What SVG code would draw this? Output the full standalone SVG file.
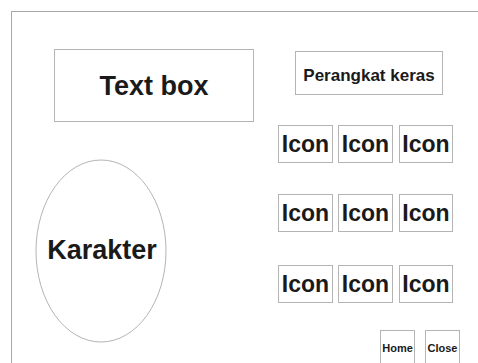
<svg xmlns="http://www.w3.org/2000/svg" width="478" height="363" viewBox="0 0 478 363">
  <style>
    .box { fill: #ffffff; stroke: #b4b4b4; stroke-width: 1; }
    .frame { fill: none; stroke: #a8a8a8; stroke-width: 1; }
    .lbl { font-family: "Liberation Sans", Arial, sans-serif; font-weight: bold; fill: #1a1a1a; text-anchor: middle; }
  </style>
  <rect width="478" height="363" fill="#ffffff"/>
  <rect class="frame" x="11.5" y="11.5" width="480" height="370"/>

  <g id="textbox">
    <rect class="box" x="54.5" y="49.5" width="199" height="72"/>
    <text class="lbl" x="154" y="95" font-size="27">Text box</text>
  </g>

  <g id="perangkat-keras">
    <rect class="box" x="295.5" y="51.5" width="147" height="43"/>
    <text class="lbl" x="369" y="81" font-size="17">Perangkat keras</text>
  </g>

  <g id="icon-1-1"><rect class="box" x="278.5" y="125.5" width="54" height="37"/><text class="lbl" x="305.5" y="152" font-size="23">Icon</text></g>
  <g id="icon-1-2"><rect class="box" x="338.5" y="125.5" width="54" height="37"/><text class="lbl" x="365.5" y="152" font-size="23">Icon</text></g>
  <g id="icon-1-3"><rect class="box" x="399.5" y="125.5" width="53" height="37"/><text class="lbl" x="426" y="152" font-size="23">Icon</text></g>

  <g id="icon-2-1"><rect class="box" x="278.5" y="194.5" width="54" height="37"/><text class="lbl" x="305.5" y="221" font-size="23">Icon</text></g>
  <g id="icon-2-2"><rect class="box" x="338.5" y="194.5" width="54" height="37"/><text class="lbl" x="365.5" y="221" font-size="23">Icon</text></g>
  <g id="icon-2-3"><rect class="box" x="399.5" y="194.5" width="53" height="37"/><text class="lbl" x="426" y="221" font-size="23">Icon</text></g>

  <g id="icon-3-1"><rect class="box" x="278.5" y="265.5" width="54" height="37"/><text class="lbl" x="305.5" y="292" font-size="23">Icon</text></g>
  <g id="icon-3-2"><rect class="box" x="338.5" y="265.5" width="54" height="37"/><text class="lbl" x="365.5" y="292" font-size="23">Icon</text></g>
  <g id="icon-3-3"><rect class="box" x="399.5" y="265.5" width="53" height="37"/><text class="lbl" x="426" y="292" font-size="23">Icon</text></g>

  <g id="karakter">
    <ellipse class="box" cx="101" cy="251" rx="65" ry="91" stroke-width="0.8"/>
    <text class="lbl" x="102" y="259" font-size="27">Karakter</text>
  </g>

  <g id="home">
    <rect class="box" x="380.5" y="330.5" width="34" height="40"/>
    <text class="lbl" x="397.5" y="352" font-size="11">Home</text>
  </g>
  <g id="close">
    <rect class="box" x="425.5" y="330.5" width="34" height="40"/>
    <text class="lbl" x="442.5" y="352" font-size="11">Close</text>
  </g>

  <g id="connectors"/>
</svg>
